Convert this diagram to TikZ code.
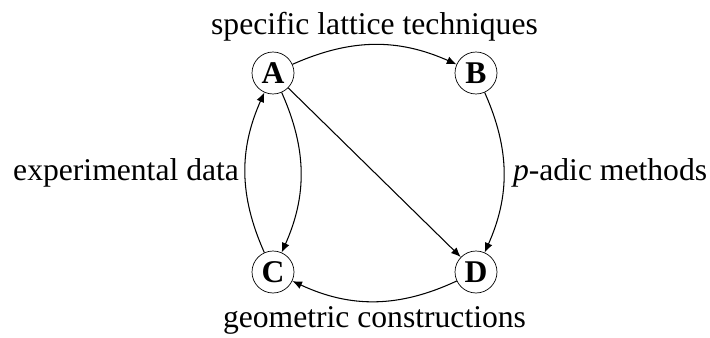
\documentclass[tikz,border=0pt]{standalone}
\usepackage{fontspec}
\setmainfont{Liberation Serif}
\usetikzlibrary{arrows.meta}

\tikzset{
  vertex/.style={draw, circle, inner sep=0pt, minimum size=0.84cm, font=\fontsize{18}{22}\selectfont\bfseries},
  link/.style={-{Latex[length=5.5pt,width=4.5pt]}, line width=0.6pt}
}

\begin{document}
\begin{tikzpicture}[x=0.02cm, y=-0.02cm, font=\fontsize{18}{22}\selectfont]
\useasboundingbox (0,0) rectangle (710,338);
\node[vertex] (a) at (273,73) {A};
\node[vertex] (b) at (476,73) {B};
\node[vertex] (c) at (273,272) {C};
\node[vertex] (d) at (476,272) {D};
\draw[link] (a) to[bend left=24] node[above, inner sep=1.5pt] {specific lattice techniques} (b);
\draw[link] (b) to[bend left=24] node[right, inner sep=5pt] {\textit{p}-adic methods} (d);
\draw[link] (d) to[bend left=25] node[below, inner sep=2.5pt] {geometric constructions} (c);
\draw[link] (c) to[bend left=24] node[left] {experimental data} (a);
\draw[link] (a) to[bend left=24] (c);
\draw[link] (a) -- (d);
\end{tikzpicture}
\end{document}
